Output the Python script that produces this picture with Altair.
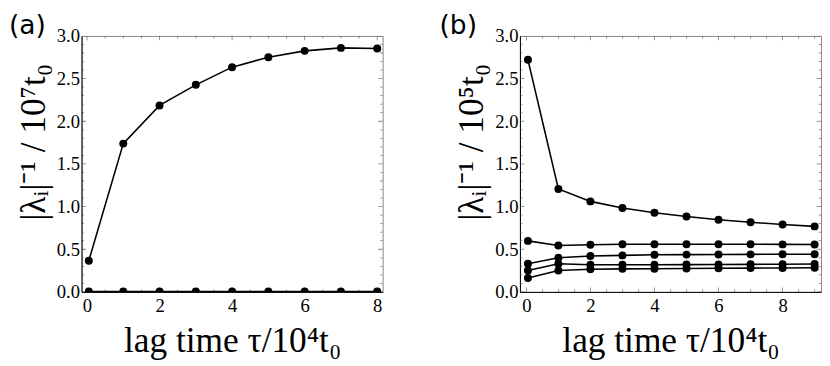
import altair as alt
import pandas as pd

# ---------------- data ----------------
# panel (a)
xa = [0.05, 1, 2, 3, 4, 5, 6, 7, 8]
a_s1 = [0.366, 1.738, 2.186, 2.427, 2.634, 2.751, 2.825, 2.860, 2.852]
a_s2 = [0.004, 0.004, 0.004, 0.004, 0.004, 0.004, 0.004, 0.004, 0.004]

# panel (b)
xb = [0.05, 1, 2, 3, 4, 5, 6, 7, 8, 9]
b_s1 = [2.72, 1.206, 1.061, 0.983, 0.927, 0.883, 0.846, 0.817, 0.790, 0.768]
b_s2 = [0.598, 0.543, 0.553, 0.558, 0.559, 0.559, 0.559, 0.558, 0.557, 0.555]
b_s3 = [0.330, 0.400, 0.420, 0.428, 0.435, 0.437, 0.439, 0.440, 0.441, 0.441]
b_s4 = [0.250, 0.330, 0.318, 0.318, 0.319, 0.320, 0.321, 0.323, 0.325, 0.327]
b_s5 = [0.162, 0.250, 0.265, 0.270, 0.272, 0.275, 0.277, 0.279, 0.281, 0.283]

a_xdomain = [-0.15, 8.15]
b_xdomain = [-0.2, 9.2]
ydomain = [0, 3]

x_ticks = [0, 2, 4, 6, 8]
x_minor_a = [v / 2 for v in range(0, 17)]
x_minor_b = [v / 2 for v in range(0, 19)]
y_ticks = [0.0, 0.5, 1.0, 1.5, 2.0, 2.5, 3.0]
y_minor = [v / 10 for v in range(0, 31)]

xtitle = "lag time τ/10⁴t₀"
ytitle_a = "|λᵢ|⁻¹ / 10⁷t₀"
ytitle_b = "|λᵢ|⁻¹ / 10⁵t₀"

W, H = 307, 261
SERIF = "Liberation Serif"


def long_df(x, series):
    rows = []
    for k, ys in enumerate(series):
        for xv, yv in zip(x, ys):
            rows.append({"x": xv, "y": yv, "s": k})
    return pd.DataFrame(rows)


def tick_frames(xmaj, xmin, xdom):
    v = []
    for t in xmin:
        for edge in ydomain:
            v.append({"x": t, "edge": edge, "len": 9 if t in xmaj else 5})
    h = []
    for t in y_minor:
        for edge in xdom:
            h.append({"y": t, "edge": edge, "len": 9 if round(t, 2) in y_ticks else 5})
    return pd.DataFrame(v), pd.DataFrame(h)


def panel(x, series, xdom, xmaj, xmin, ytitle, label, dx):
    df = long_df(x, series)
    xs = alt.Scale(domain=xdom, nice=False, zero=False)
    ys = alt.Scale(domain=ydomain, nice=False)
    xaxis = alt.Axis(values=xmaj, title=xtitle, ticks=False, grid=False,
                     labelPadding=5, titleBaseline="alphabetic", titleY=61)
    yaxis = alt.Axis(values=y_ticks, format=".1f", title=ytitle, ticks=False, grid=False,
                     labelPadding=2, titleAngle=270, titleBaseline="bottom",
                     titleX=-30, titleY=108)
    base = alt.Chart(df)
    line = base.mark_line(color="black", strokeWidth=1.6, clip=True).encode(
        x=alt.X("x:Q", scale=xs, axis=xaxis),
        y=alt.Y("y:Q", scale=ys, axis=yaxis),
        detail="s:N",
    )
    pts = base.mark_circle(color="black", size=66, opacity=1, clip=True).encode(
        x=alt.X("x:Q", scale=xs), y=alt.Y("y:Q", scale=ys)
    )
    vdf, hdf = tick_frames(xmaj, xmin, xdom)
    vt = alt.Chart(vdf).mark_tick(orient="vertical", color="#444", thickness=0.8, clip=True).encode(
        x=alt.X("x:Q", scale=xs), y=alt.Y("edge:Q", scale=ys),
        size=alt.Size("len:Q", scale=None, legend=None),
    )
    ht = alt.Chart(hdf).mark_tick(orient="horizontal", color="#444", thickness=0.8, clip=True).encode(
        y=alt.Y("y:Q", scale=ys), x=alt.X("edge:Q", scale=xs),
        size=alt.Size("len:Q", scale=None, legend=None),
    )
    return alt.layer(vt, ht, line, pts).properties(
        width=W, height=H,
        title=alt.TitleParams(label, anchor="start", frame="group", dx=dx,
                              font="DejaVu Sans", fontSize=27, fontWeight="normal",
                              color="black", offset=-13),
    )


pa = panel(xa, [a_s1, a_s2], a_xdomain, x_ticks, x_minor_a, ytitle_a, "(a)", -74)
pb = panel(xb, [b_s1, b_s2, b_s3, b_s4, b_s5], b_xdomain, x_ticks, x_minor_b, ytitle_b, "(b)", -82)

chart = alt.hconcat(pa, pb, spacing=56).properties(
    padding={"left": 0, "top": 0, "right": 0, "bottom": 0},
    background="white",
).configure_view(stroke="#888", strokeWidth=1).configure_axis(
    domainColor="black", domainWidth=1,
    labelFont=SERIF, labelFontSize=19, labelColor="black",
    titleFont=SERIF, titleFontSize=36, titleFontWeight="normal", titleColor="black",
)

chart.save("out.html", embed_options={"renderer": "svg", "actions": False})
